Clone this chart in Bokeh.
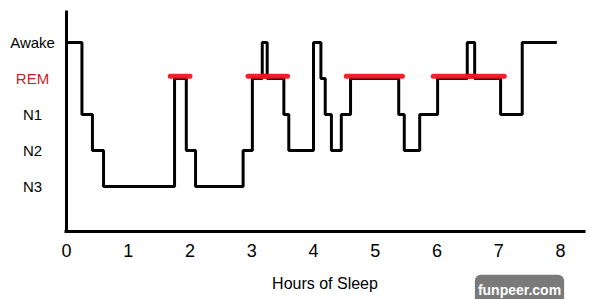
from bokeh.plotting import figure
from bokeh.models import LinearAxis, FixedTicker, Label
from bokeh.core.properties import value
from bokeh.embed import file_html
from bokeh.resources import INLINE

# ---- data -------------------------------------------------------------
stage_names = ["N3", "N2", "N1", "REM", "Awake"]
stage_label_colors = ["black", "black", "black", "#c41e28", "black"]
x_ticks = [0, 1, 2, 3, 4, 5, 6, 7, 8]

change_hours = [0.00, 0.25, 0.42, 0.60, 1.75, 1.94, 2.09, 2.86, 3.01, 3.17,
                3.25, 3.52, 3.60, 4.00, 4.12, 4.19, 4.29, 4.45, 4.60, 5.38,
                5.47, 5.72, 6.01, 6.49, 6.61, 7.03, 7.38]
stages = ["Awake", "N1", "N2", "N3", "REM", "N2", "N3", "N2", "REM", "Awake",
          "REM", "N1", "N2", "Awake", "REM", "N1", "N2", "N1", "REM", "N1",
          "N2", "N1", "REM", "Awake", "REM", "N1", "Awake"]
end_hour = 7.94
# which REM periods are marked with the red highlight (in order of occurrence)
rem_highlighted = [True, True, True, False, True, True, True]

# ---- derived ----------------------------------------------------------
level = {name: i + 1 for i, name in enumerate(stage_names)}
xs = change_hours + [end_hour]
ys = [level[s] for s in stages] + [level[stages[-1]]]

rem_x0, rem_x1, rem_y = [], [], []
k = 0
for i, s in enumerate(stages):
    if s == "REM":
        if rem_highlighted[k]:
            rem_x0.append(xs[i] - 0.07)
            rem_x1.append(xs[i + 1] + 0.06)
            rem_y.append(level[s] + 0.06)
        k += 1

FONT = "Liberation Sans"

p = figure(width=589, height=299,
           x_range=(-1.0688, 8.4696), y_range=(-2.1389, 6.1667),
           x_axis_type=None, y_axis_type=None,
           toolbar_location=None, output_backend="svg",
           min_border=0, outline_line_color=None)

# axes
xaxis = LinearAxis(fixed_location=-0.25, bounds=(-0.025, 8.405),
                   ticker=FixedTicker(ticks=x_ticks),
                   axis_line_width=3, axis_line_color="black",
                   major_tick_line_color=None, minor_tick_line_color=None,
                   major_tick_out=0, major_tick_in=0,
                   major_label_text_font=FONT, major_label_text_font_size="18px",
                   major_label_text_color="black", major_label_standoff=13,
                   axis_label="Hours of Sleep", axis_label_text_font=FONT,
                   axis_label_text_font_size="16px", axis_label_text_font_style="normal",
                   axis_label_text_color="black", axis_label_standoff=14)
p.add_layout(xaxis, "below")

yaxis = LinearAxis(fixed_location=0, bounds=(-0.25, 5.889),
                   ticker=FixedTicker(ticks=[]),
                   axis_line_width=3, axis_line_color="black",
                   major_tick_line_color=None, minor_tick_line_color=None,
                   major_label_text_font_size="0px")
p.add_layout(yaxis, "left")

# stage labels
p.text(x=[-0.55] * len(stage_names), y=[level[n] for n in stage_names],
       text=stage_names, text_color=stage_label_colors,
       text_align="center", text_baseline="middle",
       text_font=value(FONT), text_font_size="15px")

# hypnogram
p.step(xs, ys, mode="after", line_width=3, line_color="black")

# REM highlights
p.segment(x0=rem_x0, y0=rem_y, x1=rem_x1, y1=rem_y,
          line_color="#f0141e", line_width=5, line_cap="round", line_alpha=0.95)

# watermark
p.add_layout(Label(x=7.336, y=-1.87, text="funpeer.com",
                   text_align="center", text_baseline="middle",
                   text_color="white", text_font=FONT, text_font_style="bold",
                   text_font_size="14px",
                   background_fill_color="#7a7a7a", padding=(3, 7),
                   border_radius=6))

open("out.html", "w").write(file_html(p, INLINE))
